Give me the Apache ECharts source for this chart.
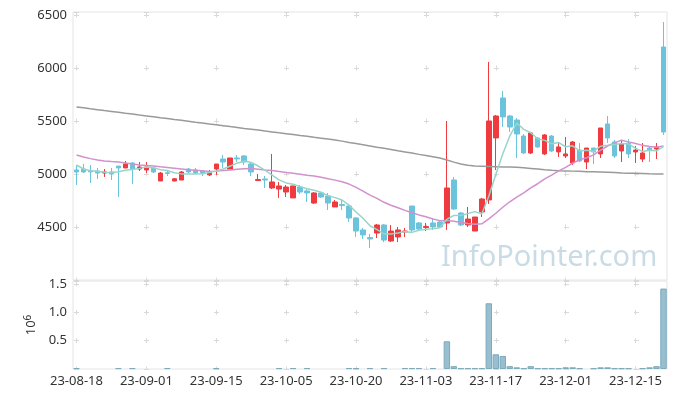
<!DOCTYPE html>
<html>
<head>
<meta charset="utf-8">
<script src="https://cdn.jsdelivr.net/npm/echarts@6/dist/echarts.min.js"></script>
<style>
html, body { margin: 0; padding: 0; background: #fff; }
#chart { width: 677px; height: 398px; }
</style>
</head>
<body>
<div id="chart"></div>
<script>
var dates = [
	'23-08-18',
	'23-08-21','23-08-22','23-08-23','23-08-24','23-08-25',
	'23-08-28','23-08-29','23-08-30','23-08-31','23-09-01',
	'23-09-04','23-09-05','23-09-06','23-09-07','23-09-08',
	'23-09-11','23-09-12','23-09-13','23-09-14','23-09-15',
	'23-09-18','23-09-19','23-09-20','23-09-21','23-09-22',
	'23-09-25','23-09-26','23-09-27','23-10-04','23-10-05',
	'23-10-06','23-10-10','23-10-11','23-10-12','23-10-13',
	'23-10-16','23-10-17','23-10-18','23-10-19','23-10-20',
	'23-10-23','23-10-24','23-10-25','23-10-26','23-10-27',
	'23-10-30','23-10-31','23-11-01','23-11-02','23-11-03',
	'23-11-06','23-11-07','23-11-08','23-11-09','23-11-10',
	'23-11-13','23-11-14','23-11-15','23-11-16','23-11-17',
	'23-11-20','23-11-21','23-11-22','23-11-23','23-11-24',
	'23-11-27','23-11-28','23-11-29','23-11-30','23-12-01',
	'23-12-04','23-12-05','23-12-06','23-12-07','23-12-08',
	'23-12-11','23-12-12','23-12-13','23-12-14','23-12-15',
	'23-12-18','23-12-19','23-12-20','23-12-21'
];

var opens = [
	5038,5047,5030,5028,5009,5019,5075,5057,5104,5047,
	5038,5057,4934,5012,4934,4943,5047,5038,5028,4991,
	5047,5141,5047,5151,5170,5094,4938,4953,4868,4858,
	4830,4774,4877,4840,4726,4821,4792,4689,4712,4698,
	4585,4472,4400,4443,4519,4368,4406,4453,4698,4538,
	4495,4538,4547,4538,4943,4632,4519,4462,4642,4755,
	5340,5717,5547,5509,5358,5198,5340,5189,5358,5208,
	5170,5104,5226,5113,5245,5189,5472,5302,5217,5292,
	5208,5141,5245,5236,6198
];
var closes = [
	5019,5019,5020,5009,5019,5000,5057,5094,5047,5066,
	5066,5019,5009,5005,4955,5019,5019,5009,5009,5009,
	5094,5113,5151,5142,5113,5019,4948,4943,4925,4887,
	4877,4887,4830,4821,4821,4783,4726,4736,4702,4585,
	4462,4425,4387,4519,4377,4462,4472,4462,4472,4481,
	4505,4500,4500,4868,4670,4519,4575,4594,4764,5500,
	5547,5538,5443,5377,5198,5387,5255,5368,5217,5255,
	5189,5302,5123,5245,5208,5434,5340,5170,5283,5189,
	5226,5198,5226,5255,5396
];
var lows = [
	4896,5009,4915,4953,4972,4943,4783,5057,4906,5028,
	5009,5009,4934,4981,4930,4943,5009,5000,4981,4981,
	4991,5057,5047,5113,5085,4981,4938,4868,4858,4774,
	4783,4774,4811,4736,4717,4774,4660,4689,4660,4547,
	4406,4387,4302,4396,4358,4358,4358,4406,4453,4462,
	4462,4472,4491,4472,4660,4509,4500,4462,4594,4717,
	5038,5443,5396,5151,5189,5189,5245,5179,5208,5160,
	5151,5085,5113,5047,5094,5151,5292,5151,5113,5151,
	5104,5113,5113,5141,5368
];
var highs = [
	5085,5094,5085,5057,5047,5057,5075,5123,5113,5113,
	5113,5066,5019,5038,4960,5028,5057,5057,5028,5038,
	5094,5179,5151,5179,5179,5104,5000,4981,5189,4925,
	4896,4887,4896,4868,4830,4830,4821,4755,4755,4708,
	4594,4491,4434,4528,4528,4519,4500,4491,4698,4547,
	4538,4585,4566,5500,4972,4642,4689,4594,4774,6057,
	5557,5783,5557,5528,5377,5396,5349,5377,5368,5302,
	5349,5311,5292,5245,5245,5434,5547,5321,5321,5330,
	5264,5292,5255,5292,6434
];
var volumes = [
	15000,0,0,0,0,0,15000,0,15000,0,
	0,0,0,15000,0,0,0,0,0,0,
	15000,0,0,0,0,0,0,0,0,15000,
	0,15000,0,15000,0,0,0,0,0,15000,
	15000,0,15000,0,15000,0,0,15000,15000,15000,
	0,15000,0,490000,50000,12000,12000,12000,12000,1160000,
	260000,230000,50000,30000,12000,50000,12000,12000,12000,12000,
	30000,30000,12000,0,12000,30000,30000,12000,12000,12000,
	0,12000,30000,50000,1420000
];

// moving averages before the window starts
var ma5Head = [5085,5047,5030,5025];
var ma20Head = [
	5179,5160,5145,5132,5123,5117,5113,5104,5094,5085,
	5080,5075,5068,5062,5055,5048,5040,5035,5030
];
var ma120 = [
	5632,5624,5615,5607,5598,5590,5582,5573,5565,5556,
	5548,5540,5531,5523,5514,5506,5498,5489,5481,5472,
	5464,5456,5447,5439,5430,5422,5414,5405,5397,5388,
	5380,5372,5363,5355,5346,5338,5330,5321,5310,5298,
	5287,5276,5265,5253,5242,5231,5219,5208,5197,5185,
	5174,5163,5151,5132,5112,5095,5082,5075,5073,5071,
	5069,5067,5066,5064,5058,5052,5046,5040,5035,5031,
	5029,5027,5025,5022,5020,5018,5016,5013,5010,5008,
	5006,5004,5002,5001,5000
];

var yTicks = [4000, 6528, 500];
var volTicks = [0, 1553000, 500000];

function calcMA(n, head){
	var res = [];
	for (var i = 0; i < closes.length; i++) {
		if (i < n - 1) { res.push(head[i]); continue; }
		var sum = 0;
		for (var j = 0; j < n; j++) sum += closes[i - j];
		res.push(Math.round(sum / n));
	}
	return res;
}

var kData = [], volData = [];
for (var i = 0; i < dates.length; i++) {
	kData.push([opens[i], closes[i], lows[i], highs[i]]);
	// no outline on empty days, otherwise a flat line shows along the bottom
	volData.push({value: volumes[i], itemStyle: {borderWidth: volumes[i] ? 1 : 0}});
}

var font = '"Noto Sans", sans-serif';
var crossColor = '#d9d9d9';

var chart = echarts.init(document.getElementById('chart'));
chart.setOption({
	animation: false,
	grid: [
		{left: 73, right: 10, top: 12, height: 268, show: true, borderColor: '#e4e4e4', borderWidth: 1},
		{left: 73, right: 10, top: 281, height: 88, show: true, borderColor: '#e4e4e4', borderWidth: 1}
	],
	graphic: [{
		type: 'text',
		x: 441,
		y: 258,
		z: 0,
		style: {
			text: 'InfoPointer.com',
			font: '29px "Noto Sans"',
			fill: '#c9dbe4',
			verticalAlign: 'middle'
		}
	}],
	xAxis: [
		{
			type: 'category', gridIndex: 0, data: dates, boundaryGap: true,
			axisLine: {show: false}, axisTick: {show: false}, axisLabel: {show: false},
			splitLine: {
				show: true, interval: 9, alignWithLabel: true,
				lineStyle: {color: crossColor, type: [5, 48], dashOffset: -0.5}
			}
		},
		{
			type: 'category', gridIndex: 1, data: dates, boundaryGap: true,
			axisLine: {show: false}, axisTick: {show: false},
			axisLabel: {interval: 9, color: '#333', fontSize: 13, fontFamily: font, margin: 6},
			splitLine: {
				show: true, interval: 9, alignWithLabel: true,
				lineStyle: {color: crossColor, type: [5, 23.33], dashOffset: -0.5}
			}
		}
	],
	yAxis: [
		{
			type: 'value', gridIndex: 0, scale: true,
			min: yTicks[0], max: yTicks[1], interval: yTicks[2],
			axisLine: {show: false}, axisTick: {show: false},
			axisLabel: {
				color: '#333', fontSize: 13, fontFamily: font, margin: 6,
				showMinLabel: false, showMaxLabel: false,
				formatter: function(v){ return String(v); }
			},
			splitLine: {show: true, lineStyle: {color: crossColor, type: [5, 65], dashOffset: -1}}
		},
		{
			type: 'value', gridIndex: 1,
			min: volTicks[0], max: volTicks[1], interval: volTicks[2],
			name: '10{s|6}', nameLocation: 'middle', nameGap: 33, nameRotate: 90,
			nameTextStyle: {
				color: '#333', fontSize: 13, fontFamily: font,
				rich: {s: {fontSize: 10, fontFamily: font, color: '#333', verticalAlign: 'top', padding: [0, 0, 6, 0]}}
			},
			axisLine: {show: false}, axisTick: {show: false},
			axisLabel: {
				color: '#333', fontSize: 13, fontFamily: font, margin: 6,
				showMinLabel: false, showMaxLabel: false,
				formatter: function(v){ return (v / 1e6).toFixed(1); }
			},
			splitLine: {show: true, lineStyle: {color: crossColor, type: [5, 65], dashOffset: -1}}
		}
	],
	series: [
		{
			name: 'price',
			type: 'candlestick',
			xAxisIndex: 0, yAxisIndex: 0,
			data: kData,
			barWidth: 5,
			itemStyle: {
				color: '#ee3b3f', color0: '#6cc4dc',
				borderColor: '#ee3b3f', borderColor0: '#6cc4dc',
				borderWidth: 1
			}
		},
		{
			name: 'MA120', type: 'line', xAxisIndex: 0, yAxisIndex: 0,
			data: ma120, symbol: 'none',
			lineStyle: {color: '#9a9a9a', width: 1.5}
		},
		{
			name: 'MA20', type: 'line', xAxisIndex: 0, yAxisIndex: 0,
			data: calcMA(20, ma20Head), symbol: 'none',
			lineStyle: {color: '#d091cd', width: 1.5}
		},
		{
			name: 'MA5', type: 'line', xAxisIndex: 0, yAxisIndex: 0,
			data: calcMA(5, ma5Head), symbol: 'none',
			lineStyle: {color: '#97d5c8', width: 1.5}
		},
		{
			name: 'volume',
			type: 'bar',
			xAxisIndex: 1, yAxisIndex: 1,
			data: volData,
			barCategoryGap: '8%',
			itemStyle: {color: '#97bfcf', borderColor: '#7eaabc', borderWidth: 1}
		}
	]
});
</script>
</body>
</html>
